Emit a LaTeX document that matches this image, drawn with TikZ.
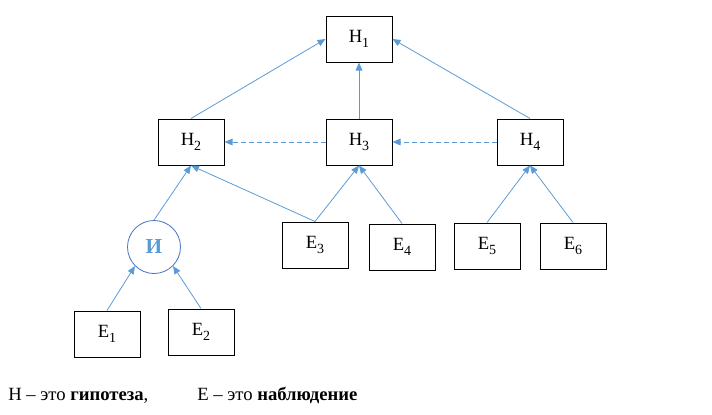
\documentclass[tikz,border=0pt]{standalone}
\usepackage{fontspec}
\setmainfont{Liberation Serif}
\usetikzlibrary{arrows.meta}
\definecolor{linkblue}{RGB}{91,155,213}
\definecolor{ringblue}{RGB}{68,114,196}
\newcommand{\lowidx}[1]{\raisebox{-0.5ex}{\fontsize{10.5}{10.5}\selectfont #1}}
\tikzset{
  hbox/.style={draw, line width=0.75pt, minimum width=49.5pt, minimum height=34.5pt, inner sep=0pt, font=\fontsize{14}{16}\selectfont},
  link/.style={draw=linkblue, line width=0.6pt, -{Triangle[length=6pt,width=5pt]}},
  weak/.style={link, dash pattern=on 3.5pt off 2.5pt}
}
\begin{document}
\begin{tikzpicture}[x=0.75pt,y=-0.75pt]
            \useasboundingbox (0,0) rectangle (712,414);

            \node[hbox] (h1) at (359,39) {Н\lowidx{1}};
            \node[hbox] (h2) at (191,142) {Н\lowidx{2}};
            \node[hbox] (h3) at (359,142) {Н\lowidx{3}};
            \node[hbox] (h4) at (530,142) {Н\lowidx{4}};

            \node[circle, draw=ringblue, line width=0.6pt, minimum size=39.75pt, inner sep=0pt,
                  text=linkblue, font=\fontsize{16}{18}\selectfont\bfseries] (and) at (154,247) {И};

            \node[hbox] (e1) at (107,334) {Е\lowidx{1}};
            \node[hbox] (e2) at (201,332) {Е\lowidx{2}};
            \node[hbox] (e3) at (315,245) {Е\lowidx{3}};
            \node[hbox] (e4) at (402,247) {Е\lowidx{4}};
            \node[hbox] (e5) at (487,246) {Е\lowidx{5}};
            \node[hbox] (e6) at (573,246) {Е\lowidx{6}};

            % top level
            \draw[link] (h2.north) -- (h1.west);
            \draw[link] (h3.north) -- (h1.south);
            \draw[link] (h4.north) -- (h1.east);

            \draw[weak] (h3.west) -- (h2.east);
            \draw[weak] (h4.west) -- (h3.east);

            % evidence
            \draw[link] (and.north) -- (h2.south);
            \draw[link] (e3.north) -- (h2.south);
            \draw[link] (e3.north) -- (h3.south);
            \draw[link] (e4.north) -- (h3.south);
            \draw[link] (e5.north) -- (h4.south);
            \draw[link] (e6.north) -- (h4.south);
            \draw[link] (e1.north) -- (and.south west);
            \draw[link] (e2.north) -- (and.south east);

            \node[anchor=base west, inner sep=0pt, font=\fontsize{14}{16}\selectfont] (hleg) at (8,400) {Н – это \textbf{гипотеза},};
            \node[anchor=base west, inner sep=0pt, font=\fontsize{14}{16}\selectfont] (eleg) at (197,400) {Е – это \textbf{наблюдение}};
        \end{tikzpicture}
\end{document}
